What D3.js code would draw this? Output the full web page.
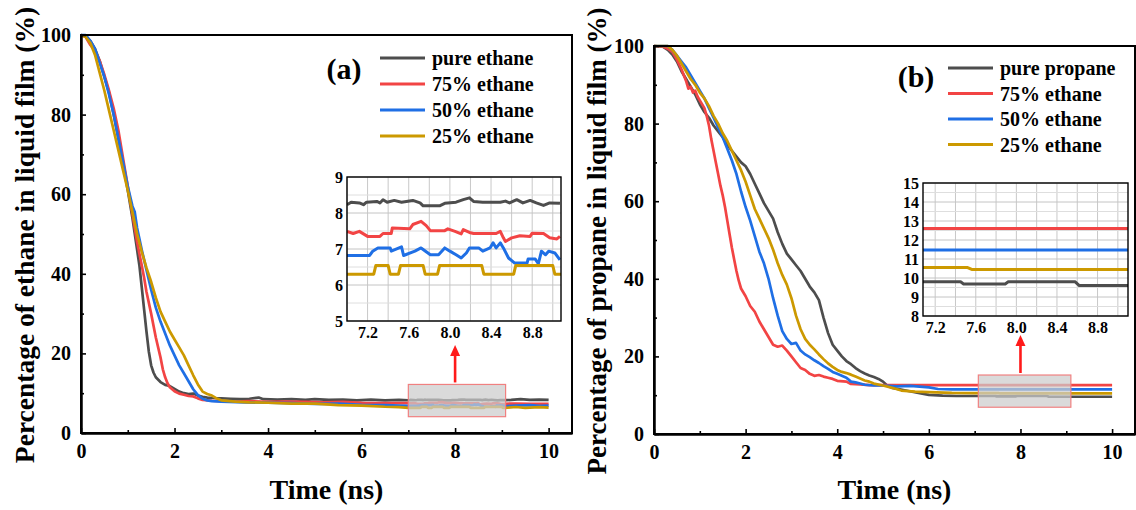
<!DOCTYPE html>
<html>
<head>
<meta charset="utf-8">
<script src="https://cdnjs.cloudflare.com/ajax/libs/d3/7.8.5/d3.min.js"></script>
<style>
  body { margin: 0; background: #fff; }
  svg text { font-family: "Liberation Serif", "Times New Roman", serif; font-weight: bold; fill: #000; }
</style>
</head>
<body>
<div id="chart"></div>
<script>
// ---------- data (time in ns, value in %) ----------
var colors = ["#4d4d4d", "#f24444", "#1f6fe5", "#cc9900"];
var namesA = ["pure ethane", "75% ethane", "50% ethane", "25% ethane"];
var namesB = ["pure propane", "75% ethane", "50% ethane", "25% ethane"];

var xTicks = [0, 2, 4, 6, 8, 10];
var xMinor = [1, 3, 5, 7, 9];
var yTicks = [0, 20, 40, 60, 80, 100];
var yMinor = [10, 30, 50, 70, 90];
var insetXTicks = [7.2, 7.6, 8.0, 8.4, 8.8];
var insetYTicksA = [5, 6, 7, 8, 9];
var insetYTicksB = [8, 9, 10, 11, 12, 13, 14, 15];

// (a) ethane in liquid film, outside the zoom window
var aPure = [[0,100],[0.1,99.8],[0.2,98.5],[0.3,96.5],[0.4,93.5],[0.5,89.5],[0.6,85.5],[0.7,80],[0.8,74],[0.9,67.5],[1.0,61],[1.1,54],[1.2,46],[1.25,42],[1.3,36.5],[1.35,31],[1.4,25.5],[1.45,20.5],[1.5,17],[1.55,15.2],[1.6,14],[1.7,12.8],[1.8,12.1],[1.9,11.8],[2.0,11.1],[2.1,10.4],[2.2,10.0],[2.3,9.8],[2.4,9.9],[2.5,9.4],[2.6,9.1],[2.7,8.9],[2.8,8.8],[3.0,8.7],[3.2,8.6],[3.4,8.5],[3.6,8.6],[3.8,8.9],[3.9,8.5],[4.2,8.4],[4.5,8.5],[4.8,8.3],[5.0,8.5],[5.3,8.3],[5.6,8.4],[5.9,8.2],[6.2,8.4],[6.5,8.2],[6.8,8.3],[9.2,8.3],[9.4,8.5],[9.6,8.3],[9.8,8.4],[10,8.3]];
var a75 = [[0,100],[0.1,99.5],[0.2,97.5],[0.3,96],[0.4,93.5],[0.5,90],[0.6,86],[0.7,81.5],[0.8,76],[0.9,69],[1.0,62],[1.1,55],[1.2,48],[1.3,42],[1.35,39],[1.4,35.5],[1.5,30],[1.6,24],[1.7,19],[1.75,16],[1.8,14],[1.85,12.5],[1.9,11.5],[2.0,10.5],[2.1,9.9],[2.2,9.6],[2.3,9.3],[2.4,9.2],[2.5,8.7],[2.6,8.3],[2.8,8.1],[3.0,8.0],[3.3,7.9],[3.6,8.0],[4.0,7.8],[4.4,7.9],[4.8,7.8],[5.2,7.7],[5.6,7.8],[6.0,7.6],[6.5,7.5],[6.8,7.5],[9.3,7.4],[9.6,7.3],[9.8,7.35],[10,7.3]];
var a50 = [[0,100],[0.1,100],[0.2,98.5],[0.3,96.5],[0.4,93],[0.5,89.5],[0.6,85],[0.7,80],[0.8,74],[0.9,68],[1.0,62],[1.1,57],[1.15,55.5],[1.2,51.5],[1.3,46],[1.4,41],[1.5,36],[1.6,31.5],[1.7,28],[1.8,25],[1.9,22],[2.0,19.5],[2.1,17],[2.2,15],[2.3,13],[2.4,11],[2.5,9.5],[2.6,8.6],[2.7,8.2],[2.8,8.0],[3.0,7.9],[3.5,7.7],[4.0,7.6],[4.5,7.5],[5.0,7.3],[5.5,7.4],[6.0,7.1],[6.5,7.0],[6.8,6.9],[9.3,6.9],[9.6,7.0],[9.8,6.8],[10,6.9]];
var a25 = [[0,100],[0.1,99.5],[0.2,98],[0.3,95],[0.4,90.5],[0.5,86],[0.6,81],[0.7,76],[0.8,71],[0.9,66],[1.0,61],[1.1,55.5],[1.2,50],[1.3,45.5],[1.4,41.5],[1.5,38],[1.6,34],[1.7,30.5],[1.8,28],[1.9,25.5],[2.0,23.5],[2.1,21.5],[2.2,19.5],[2.3,17],[2.4,14.5],[2.5,12.2],[2.6,10.4],[2.7,9.8],[2.8,9.4],[2.9,8.7],[3.0,8.2],[3.3,7.9],[3.6,7.7],[4.0,7.6],[4.5,7.4],[5.0,7.4],[5.5,7.0],[6.0,6.9],[6.5,6.6],[6.8,6.5],[9.3,6.54],[9.5,6.3],[9.8,6.5],[10,6.4]];

// (a) zoom window 7 - 9.08 ns
var aPureZoom = [[7.0,8.23],[7.04,8.3],[7.12,8.28],[7.16,8.23],[7.19,8.3],[7.29,8.32],[7.32,8.28],[7.35,8.37],[7.39,8.3],[7.46,8.35],[7.53,8.3],[7.64,8.35],[7.71,8.28],[7.74,8.2],[7.9,8.2],[7.95,8.27],[8.06,8.3],[8.13,8.37],[8.19,8.42],[8.23,8.32],[8.32,8.3],[8.49,8.3],[8.54,8.33],[8.58,8.28],[8.65,8.37],[8.71,8.28],[8.78,8.35],[8.84,8.28],[8.91,8.21],[8.97,8.28],[9.07,8.27]];
var a75Zoom = [[7.0,7.49],[7.06,7.43],[7.12,7.49],[7.2,7.35],[7.32,7.35],[7.35,7.43],[7.43,7.43],[7.44,7.58],[7.61,7.56],[7.64,7.68],[7.72,7.77],[7.77,7.65],[7.81,7.51],[7.95,7.51],[7.98,7.56],[8.05,7.49],[8.11,7.42],[8.13,7.54],[8.19,7.46],[8.23,7.43],[8.45,7.43],[8.49,7.49],[8.52,7.31],[8.54,7.21],[8.6,7.31],[8.68,7.37],[8.78,7.35],[8.8,7.44],[8.91,7.43],[8.97,7.31],[9.04,7.28],[9.07,7.35]];
var a50Zoom = [[7.0,6.82],[7.22,6.82],[7.25,6.94],[7.3,7.03],[7.42,7.03],[7.43,6.94],[7.53,7.06],[7.55,6.82],[7.66,6.94],[7.72,7.03],[7.81,6.84],[7.89,6.84],[7.95,7.03],[8.0,6.94],[8.06,6.84],[8.11,6.75],[8.16,6.89],[8.19,7.03],[8.28,7.03],[8.32,6.94],[8.39,7.03],[8.42,7.17],[8.45,7.03],[8.49,7.17],[8.52,7.03],[8.57,6.75],[8.63,6.61],[8.75,6.61],[8.76,6.72],[8.83,6.72],[8.86,6.59],[8.89,6.94],[8.93,6.84],[8.96,6.94],[9.02,6.89],[9.07,6.7]];
var a25Zoom = [[7.0,6.3],[7.26,6.3],[7.28,6.54],[7.4,6.54],[7.42,6.3],[7.5,6.3],[7.52,6.54],[7.74,6.54],[7.76,6.3],[7.88,6.3],[7.9,6.54],[8.31,6.54],[8.33,6.3],[8.62,6.3],[8.64,6.54],[9.0,6.54],[9.02,6.3],[9.08,6.3]];

// (b) propane in liquid film, outside the zoom window
var bPure = [[0,100],[0.2,99.8],[0.3,99],[0.4,97.8],[0.5,96],[0.6,93.5],[0.7,91.5],[0.8,89.5],[0.9,87.5],[1.0,85],[1.1,83],[1.2,81.5],[1.3,79.5],[1.4,78],[1.5,76.5],[1.6,74.5],[1.7,73],[1.8,71.5],[1.9,70],[2.0,69],[2.1,67],[2.2,64.5],[2.3,62],[2.4,59.5],[2.5,57.5],[2.6,55.5],[2.7,52],[2.8,49],[2.9,46.5],[3.0,45],[3.1,43.5],[3.2,42],[3.3,40],[3.4,38],[3.5,36.5],[3.6,34.5],[3.7,30],[3.8,26],[3.9,23],[4.0,21.5],[4.1,20],[4.2,18.8],[4.3,18],[4.4,17],[4.5,16.2],[4.6,15.6],[4.7,15.1],[4.8,14.7],[4.9,14.2],[5.0,13.5],[5.1,12.4],[5.2,11.9],[5.5,11.2],[5.8,10.5],[6.0,10.1],[6.3,9.9],[6.6,9.8],[7.0,9.8],[9.2,9.6],[10,9.6]];
var b75 = [[0,100],[0.2,99.8],[0.3,99.3],[0.4,98.5],[0.5,96.5],[0.6,94],[0.7,91],[0.75,89],[0.8,89.5],[0.85,88],[0.9,88.5],[0.95,87],[1.0,86],[1.1,84],[1.15,82],[1.2,79.5],[1.25,76],[1.3,73],[1.35,70],[1.4,67],[1.45,64],[1.5,61.5],[1.55,58.5],[1.6,55],[1.65,51.5],[1.7,48],[1.75,45],[1.8,42],[1.85,39.5],[1.9,37.5],[2.0,35.5],[2.1,33],[2.2,31.5],[2.3,29],[2.4,27],[2.5,25],[2.6,23],[2.7,22.5],[2.8,22.8],[2.9,21.5],[3.0,20],[3.1,18.5],[3.2,17],[3.3,16.5],[3.4,15.5],[3.5,15],[3.6,15.2],[3.7,14.8],[3.8,14.5],[3.9,14.2],[4.0,13.7],[4.2,13.5],[4.3,12.9],[4.5,12.8],[4.7,12.6],[5.0,12.6],[6.0,12.6],[7.0,12.6],[9.2,12.6],[10,12.6]];
var b50 = [[0,100],[0.3,100],[0.4,99],[0.5,97.5],[0.6,96],[0.7,94.5],[0.8,92.5],[0.9,90.5],[1.0,88.5],[1.1,86.5],[1.2,84],[1.3,81.5],[1.4,79],[1.5,76.5],[1.6,73.5],[1.7,70.5],[1.8,67],[1.9,62.5],[2.0,58.5],[2.1,55],[2.2,51],[2.3,47],[2.4,44],[2.5,40],[2.6,35],[2.7,30.5],[2.8,26.5],[2.9,24.5],[3.0,23.2],[3.1,23.5],[3.2,21.5],[3.3,20.5],[3.4,19.8],[3.5,19],[3.6,18.3],[3.7,17.5],[3.8,16.8],[3.9,16],[4.0,15.5],[4.1,15],[4.2,14.5],[4.3,13.5],[4.4,13.3],[4.5,13],[4.6,12.7],[4.8,12.5],[5.0,12.5],[5.3,12.3],[5.6,12.4],[5.8,12.2],[6.0,12],[6.2,11.6],[6.5,11.5],[7.0,11.48],[9.2,11.48],[10,11.48]];
var b25 = [[0,100],[0.3,100],[0.4,99],[0.5,97.5],[0.6,95.5],[0.7,93.5],[0.8,91.5],[0.9,90],[1.0,88],[1.1,86.5],[1.2,84.5],[1.3,82],[1.4,80],[1.5,77.5],[1.6,75.5],[1.7,73],[1.8,70.5],[1.9,68],[2.0,65],[2.1,61.5],[2.2,58],[2.3,55.5],[2.4,53],[2.5,50.5],[2.6,47.5],[2.7,44],[2.8,41],[2.9,38.5],[3.0,35],[3.1,30.5],[3.2,27],[3.3,24.5],[3.4,23],[3.5,21.8],[3.6,20.5],[3.7,19.3],[3.8,18.2],[3.9,17.3],[4.0,16.5],[4.1,16],[4.2,15.7],[4.3,15.3],[4.4,14.8],[4.5,14.3],[4.6,13.8],[4.7,13.5],[4.8,13],[5.0,12.5],[5.2,11.9],[5.4,11.2],[5.7,10.9],[6.0,10.8],[6.5,10.6],[7.0,10.55],[9.2,10.45],[10,10.45]];

// (b) zoom window 7.08 - 9.1 ns
var bPureZoom = [[7.08,9.8],[7.45,9.8],[7.48,9.69],[7.89,9.69],[7.92,9.8],[8.58,9.8],[8.62,9.6],[9.1,9.6]];
var b75Zoom = [[7.08,12.6],[9.1,12.6]];
var b50Zoom = [[7.08,11.48],[9.1,11.48]];
var b25Zoom = [[7.08,10.55],[7.52,10.55],[7.56,10.45],[9.1,10.45]];

// ---------- drawing ----------
var svgWidth = 1136;
var svgHeight = 510;

var svg = d3.select("#chart")
  .append("svg")
  .attr("width", svgWidth)
  .attr("height", svgHeight);

function merge(a, b) {
  return a.concat(b).sort(function(p, q) { return p[0] - q[0]; });
}

function styleText(g, size) {
  g.attr("font-family", null);
  g.selectAll("text").style("font-size", size + "px");
}

function drawPanel(p) {
  var g = svg.append("g");

  var xScale = d3.scaleLinear().domain([0, 10.5]).range([p.left, p.right]);
  var yScale = d3.scaleLinear().domain([0, 100]).range([p.bottom, p.top]);

  // curves
  var line = d3.line()
    .x(function(d) { return xScale(d[0]); })
    .y(function(d) { return yScale(d[1]); });

  p.series.forEach(function(s, i) {
    g.append("path")
      .datum(s)
      .attr("d", line)
      .attr("fill", "none")
      .attr("stroke", colors[i])
      .attr("stroke-width", 2.7)
      .attr("stroke-linejoin", "round");
  });

  // frame
  g.append("rect")
    .attr("x", p.left).attr("y", p.top)
    .attr("width", p.right - p.left).attr("height", p.bottom - p.top)
    .attr("fill", "none").attr("stroke", "#000").attr("stroke-width", 2);

  // axes, ticks pointing inward
  var xAxis = g.append("g")
    .attr("transform", "translate(0," + p.bottom + ")")
    .call(d3.axisBottom(xScale).tickValues(xTicks).tickSize(-5).tickSizeOuter(0).tickPadding(11));
  g.append("g")
    .attr("transform", "translate(0," + p.bottom + ")")
    .call(d3.axisBottom(xScale).tickValues(xMinor).tickSize(-3).tickSizeOuter(0).tickFormat(""));
  var yAxis = g.append("g")
    .attr("transform", "translate(" + p.left + ",0)")
    .call(d3.axisLeft(yScale).tickValues(yTicks).tickSize(-5).tickSizeOuter(0).tickPadding(10));
  g.append("g")
    .attr("transform", "translate(" + p.left + ",0)")
    .call(d3.axisLeft(yScale).tickValues(yMinor).tickSize(-3).tickSizeOuter(0).tickFormat(""));
  g.selectAll(".domain").attr("stroke-width", 2);
  g.selectAll(".tick line").attr("stroke-width", 1.6);
  styleText(xAxis, 20);
  styleText(yAxis, 20);

  // axis titles
  g.append("text")
    .attr("x", (p.left + p.right) / 2)
    .attr("y", 499)
    .attr("text-anchor", "middle")
    .style("font-size", "28px")
    .text("Time (ns)");
  g.append("text")
    .attr("transform", "translate(" + p.titleX + "," + p.titleY + ") rotate(-90)")
    .attr("text-anchor", "middle")
    .attr("dominant-baseline", "central")
    .style("font-size", p.titleSize + "px")
    .text(p.yTitle);

  // highlighted zoom window
  g.append("rect")
    .attr("x", xScale(p.zoomX[0]))
    .attr("y", yScale(p.zoomY[1]))
    .attr("width", xScale(p.zoomX[1]) - xScale(p.zoomX[0]))
    .attr("height", yScale(p.zoomY[0]) - yScale(p.zoomY[1]))
    .attr("fill", "#cccccc").attr("fill-opacity", 0.72)
    .attr("stroke", "#f08080").attr("stroke-width", 1.2);

  // legend
  g.append("text")
    .attr("x", p.legend.labelX)
    .attr("y", p.legend.labelY)
    .attr("text-anchor", "middle")
    .attr("dominant-baseline", "central")
    .style("font-size", "30px")
    .text(p.tag);
  p.names.forEach(function(name, i) {
    var yy = p.legend.y0 + i * p.legend.dy;
    g.append("line")
      .attr("x1", p.legend.x0).attr("x2", p.legend.x0 + 45)
      .attr("y1", yy).attr("y2", yy)
      .attr("stroke", colors[i]).attr("stroke-width", 3);
    g.append("text")
      .attr("x", p.legend.x0 + 52)
      .attr("y", yy)
      .attr("dominant-baseline", "central")
      .style("font-size", "20px")
      .text(name);
  });

  // inset
  var ins = p.inset;
  var ix = d3.scaleLinear().domain(ins.xDomain).range([ins.x0, ins.x1]);
  var iy = d3.scaleLinear().domain(ins.yDomain).range([ins.y1, ins.y0]);
  var ig = g.append("g");
  ig.append("rect")
    .attr("x", ins.x0).attr("y", ins.y0)
    .attr("width", ins.x1 - ins.x0).attr("height", ins.y1 - ins.y0)
    .attr("fill", "#fff");

  ig.selectAll(".vgrid")
    .data(ix.ticks(10))
    .enter().append("line")
    .attr("x1", function(d) { return ix(d); }).attr("x2", function(d) { return ix(d); })
    .attr("y1", ins.y0).attr("y2", ins.y1)
    .attr("stroke", "#c8c8c8").attr("stroke-width", 1);
  ig.selectAll(".hgrid")
    .data(d3.range(ins.yDomain[0], ins.yDomain[1] + 0.01, 0.5))
    .enter().append("line")
    .attr("x1", ins.x0).attr("x2", ins.x1)
    .attr("y1", function(d) { return iy(d); }).attr("y2", function(d) { return iy(d); })
    .attr("stroke", function(d) { return d % 1 === 0 ? "#c4c4c4" : "#dedede"; })
    .attr("stroke-width", 1);

  var clipId = "clip-" + p.tag.replace(/\W/g, "");
  ig.append("clipPath").attr("id", clipId)
    .append("rect")
    .attr("x", ins.x0).attr("y", ins.y0)
    .attr("width", ins.x1 - ins.x0).attr("height", ins.y1 - ins.y0);

  var iline = d3.line()
    .x(function(d) { return ix(d[0]); })
    .y(function(d) { return iy(d[1]); });
  p.zoomSeries.forEach(function(s, i) {
    ig.append("path")
      .datum(s)
      .attr("d", iline)
      .attr("clip-path", "url(#" + clipId + ")")
      .attr("fill", "none")
      .attr("stroke", colors[i])
      .attr("stroke-width", 3)
      .attr("stroke-linejoin", "round");
  });

  ig.append("rect")
    .attr("x", ins.x0).attr("y", ins.y0)
    .attr("width", ins.x1 - ins.x0).attr("height", ins.y1 - ins.y0)
    .attr("fill", "none").attr("stroke", "#000").attr("stroke-width", 1.4);

  var ixAxis = ig.append("g")
    .attr("transform", "translate(0," + ins.y1 + ")")
    .call(d3.axisBottom(ix).tickValues(insetXTicks).tickSize(0).tickPadding(6).tickFormat(d3.format(".1f")));
  var iyAxis = ig.append("g")
    .attr("transform", "translate(" + ins.x0 + ",0)")
    .call(d3.axisLeft(iy).tickValues(ins.yTicks).tickSize(0).tickPadding(4).tickFormat(d3.format("d")));
  ig.selectAll(".domain").remove();
  styleText(ixAxis, 16);
  styleText(iyAxis, 16);

  // red arrow from window to inset
  var ax = xScale(8);
  var ayBottom = yScale(p.zoomY[1]) - 2;
  var ayTip = ins.y1 + ins.arrowGap;
  g.append("line")
    .attr("x1", ax).attr("x2", ax)
    .attr("y1", ayBottom).attr("y2", ayTip + 10)
    .attr("stroke", "#ff1a1a").attr("stroke-width", 2.6);
  g.append("path")
    .attr("d", "M" + (ax - 5) + "," + (ayTip + 11) + "L" + ax + "," + ayTip + "L" + (ax + 5) + "," + (ayTip + 11) + "Z")
    .attr("fill", "#ff1a1a");
}

drawPanel({
  tag: "(a)",
  left: 81, right: 572, top: 35, bottom: 433,
  titleX: 24, titleY: 235, titleSize: 27.5,
  yTitle: "Percentage of ethane in liquid film (%)",
  names: namesA,
  series: [merge(aPure, aPureZoom), merge(a75, a75Zoom), merge(a50, a50Zoom), merge(a25, a25Zoom)],
  zoomSeries: [aPureZoom, a75Zoom, a50Zoom, a25Zoom],
  zoomX: [7.0, 9.08], zoomY: [4.1, 12.2],
  legend: { labelX: 344, labelY: 68, x0: 380, y0: 58, dy: 26 },
  inset: { xDomain: [7.0, 9.08], yDomain: [5, 9], yTicks: insetYTicksA,
           x0: 347, x1: 561, y0: 177, y1: 321, arrowGap: 24 }
});

drawPanel({
  tag: "(b)",
  left: 654, right: 1135, top: 46, bottom: 434,
  titleX: 597, titleY: 241, titleSize: 27,
  yTitle: "Percentage of propane in liquid film (%)",
  names: namesB,
  series: [merge(bPure, bPureZoom), merge(b75, b75Zoom), merge(b50, b50Zoom), merge(b25, b25Zoom)],
  zoomSeries: [bPureZoom, b75Zoom, b50Zoom, b25Zoom],
  zoomX: [7.08, 9.1], zoomY: [6.9, 15.2],
  legend: { labelX: 916, labelY: 76, x0: 948, y0: 68, dy: 25.5 },
  inset: { xDomain: [7.08, 9.1], yDomain: [8, 15], yTicks: insetYTicksB,
           x0: 923, x1: 1128, y0: 183, y1: 316, arrowGap: 19 }
});
</script>
</body>
</html>
